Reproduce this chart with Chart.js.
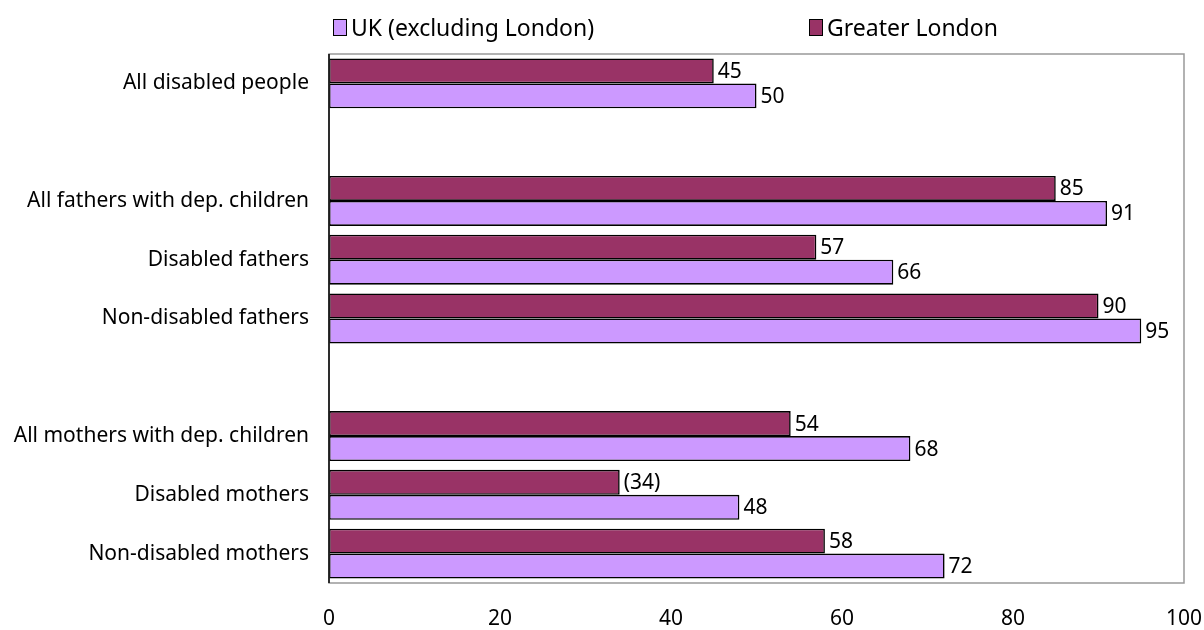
<!DOCTYPE html>
<html>
<head>
<meta charset="utf-8">
<script src="https://cdn.jsdelivr.net/npm/chart.js@4.4.1/dist/chart.umd.min.js"></script>
<style>
  body { margin: 0; background: #fff; font-family: "Noto Sans", sans-serif; }
  #wrap { position: relative; width: 1204px; height: 630px; }
  #legend { position: absolute; top: 11px; left: 0; width: 1204px; height: 32px; font-size: 23px; color: #000; }
  .item { position: absolute; display: flex; align-items: center; }
  .box { width: 12px; height: 15px; border: 1px solid #000; margin-right: 4px; }
</style>
</head>
<body>
<div id="wrap">
  <canvas id="chart" width="1204" height="630"></canvas>
  <div id="legend">
    <div class="item" style="left:333px"><span class="box" style="background:#CC99FF"></span>UK (excluding London)</div>
    <div class="item" style="left:809px"><span class="box" style="background:#993366"></span>Greater London</div>
  </div>
</div>
<script>
const categories = [
  "All disabled people", "",
  "All fathers with dep. children", "Disabled fathers", "Non-disabled fathers", "",
  "All mothers with dep. children", "Disabled mothers", "Non-disabled mothers"
];
const londonValues = [45, null, 85, 57, 90, null, 54, 34, 58];
const ukValues = [50, null, 91, 66, 95, null, 68, 48, 72];
const londonLabels = ["45", "", "85", "57", "90", "", "54", "(34)", "58"];
const ukLabels = ["50", "", "91", "66", "95", "", "68", "48", "72"];
const xTicks = [0, 20, 40, 60, 80, 100];

const FONT = "'Noto Sans', sans-serif";

const frame = {
  id: "frame",
  afterDraw(chart) {
    const a = chart.chartArea, c = chart.ctx;
    c.save();
    c.strokeStyle = "#999";
    c.lineWidth = 1.5;
    c.strokeRect(a.left, a.top, a.right - a.left, a.bottom - a.top);
    c.strokeStyle = "#000";
    c.beginPath();
    c.moveTo(a.left, a.top);
    c.lineTo(a.left, a.bottom);
    c.stroke();
    c.restore();
  }
};

const valueLabels = {
  id: "valueLabels",
  afterDatasetsDraw(chart) {
    const c = chart.ctx;
    c.save();
    c.font = "21px " + FONT;
    c.fillStyle = "#000";
    c.textAlign = "left";
    c.textBaseline = "middle";
    chart.data.datasets.forEach((ds, i) => {
      const meta = chart.getDatasetMeta(i);
      meta.data.forEach((bar, j) => {
        const txt = ds.valueLabels[j];
        if (!txt) return;
        c.fillText(txt, bar.x + 4, bar.y + 1);
      });
    });
    c.restore();
  }
};

new Chart(document.getElementById("chart"), {
  type: "bar",
  data: {
    labels: categories,
    datasets: [
      {
        label: "Greater London",
        data: londonValues,
        valueLabels: londonLabels,
        backgroundColor: "#993366",
        borderColor: "#000",
        borderWidth: 1.6,
        borderSkipped: false
      },
      {
        label: "UK (excluding London)",
        data: ukValues,
        valueLabels: ukLabels,
        backgroundColor: "#CC99FF",
        borderColor: "#000",
        borderWidth: 1.6,
        borderSkipped: false
      }
    ]
  },
  options: {
    indexAxis: "y",
    responsive: false,
    animation: false,
    layout: { padding: { top: 54, right: 20, left: 0, bottom: 0 } },
    plugins: {
      legend: { display: false },
      tooltip: { enabled: false }
    },
    scales: {
      x: {
        min: 0,
        max: 100,
        afterBuildTicks(axis) { axis.ticks = xTicks.map(v => ({ value: v })); },
        grid: { display: false, drawTicks: false },
        border: { display: false },
        ticks: { color: "#000", font: { family: FONT, size: 21 }, padding: 23, maxRotation: 0 },
        afterFit(axis) {
          axis.height = 47;
          axis.paddingLeft = 0;
          axis.paddingRight = 0;
        }
      },
      y: {
        grid: { display: false, drawTicks: false },
        border: { display: false },
        ticks: { color: "#000", font: { family: FONT, size: 21 }, padding: 20, autoSkip: false },
        afterFit(axis) { axis.width = 329; }
      }
    },
    datasets: { bar: { categoryPercentage: 0.85, barPercentage: 1 } }
  },
  plugins: [frame, valueLabels]
});
</script>
</body>
</html>
